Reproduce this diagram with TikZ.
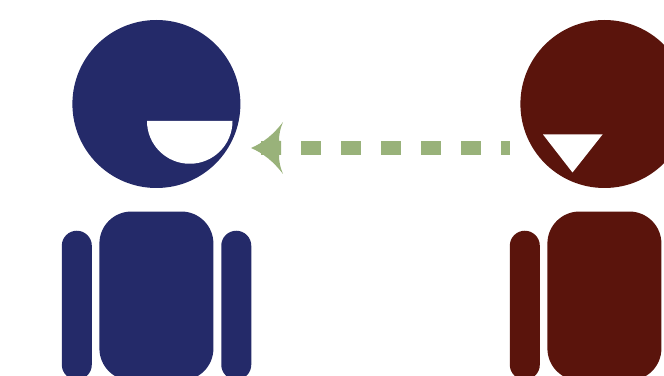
\documentclass[tikz,border=0pt]{standalone}
\usepackage{xcolor}
\usetikzlibrary{calc, positioning}
\definecolor{navyfig}{HTML}{242A69}
\definecolor{maroonfig}{HTML}{5A140C}
\definecolor{greenarr}{HTML}{99B27A}
\tikzset{
  head/.style={circle,inner sep=0pt,minimum size=126pt},
  torso/.style={rectangle,rounded corners=24pt,inner sep=0pt,minimum width=85.5pt,minimum height=126.75pt},
  limb/.style={rectangle,rounded corners=11.25pt,inner sep=0pt,minimum width=22.5pt,minimum height=111.75pt}
}
\begin{document}
\begin{tikzpicture}[x=0.75pt,y=0.75pt]
\path[use as bounding box,clip] (0,0) rectangle (664,375);
% left figure
\node[head,fill=navyfig] (headL) at (156.4,271) {};
\node[torso,fill=navyfig,below=17.25pt of headL] (bodyL) {};
\node[limb,fill=navyfig,anchor=north east] (armLa) at ($(bodyL.north west)+(-5.3pt,-14.4pt)$) {};
\node[limb,fill=navyfig,anchor=north west] (armLb) at ($(bodyL.north east)+(5.5pt,-14.4pt)$) {};
\fill[white] (147,254) arc[start angle=180,end angle=360,radius=42.75] -- cycle;
% right figure
\node[head,fill=maroonfig] (headR) at (604.4,271) {};
\node[torso,fill=maroonfig,below=17.25pt of headR] (bodyR) {};
\node[limb,fill=maroonfig,anchor=north east] (armRa) at ($(bodyR.north west)+(-5.3pt,-14.4pt)$) {};
\fill[white] (543,240.5) -- (602.5,240.5) -- (572.5,202.5) -- cycle;
% arrow
\coordinate (tail) at (510,227);
\coordinate (tip) at (261,227);
\draw[greenarr,line width=10.5pt,dash pattern=on 15pt off 15pt] (tip) -- (tail);
\fill[greenarr] (251,227) .. controls (263,232) and (274,241) .. (283,253)
  .. controls (280,246) and (279,240) .. (279,234) -- (281,234) -- (281,220) -- (279,220)
  .. controls (279,214) and (280,208) .. (283,201)
  .. controls (274,213) and (263,222) .. (251,227) -- cycle;
\end{tikzpicture}
\end{document}
